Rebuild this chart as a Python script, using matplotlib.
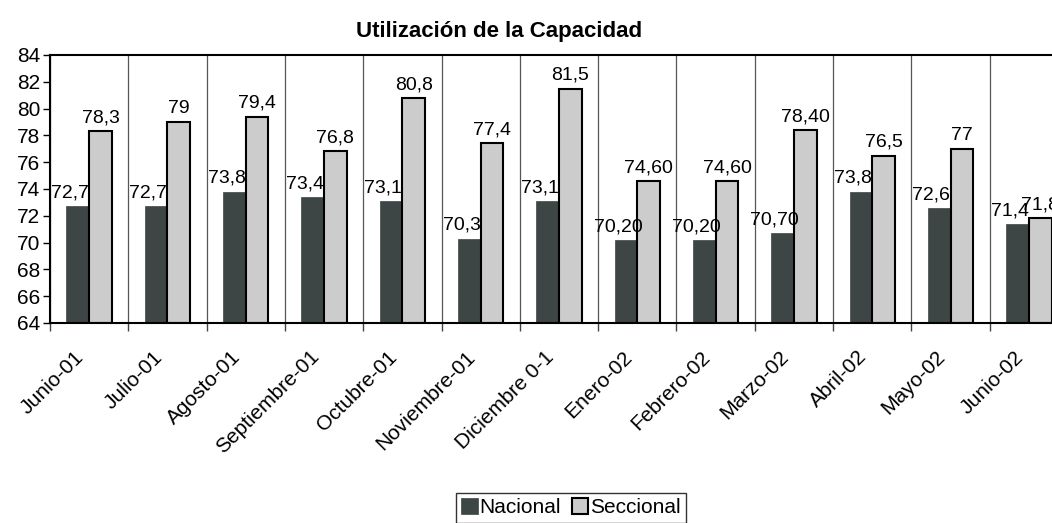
import numpy as np
import matplotlib.pyplot as plt
import matplotlib.transforms as mtransforms

meses = ['Junio-01', 'Julio-01', 'Agosto-01', 'Septiembre-01', 'Octubre-01',
         'Noviembre-01', 'Diciembre 0-1', 'Enero-02', 'Febrero-02', 'Marzo-02',
         'Abril-02', 'Mayo-02', 'Junio-02']
nacional = [72.7, 72.7, 73.8, 73.4, 73.1, 70.3, 73.1, 70.2, 70.2, 70.7, 73.8, 72.6, 71.4]
seccional = [78.3, 79, 79.4, 76.8, 80.8, 77.4, 81.5, 74.6, 74.6, 78.4, 76.5, 77, 71.8]
lab_nac = ['72,7', '72,7', '73,8', '73,4', '73,1', '70,3', '73,1', '70,20', '70,20',
           '70,70', '73,8', '72,6', '71,4']
lab_sec = ['78,3', '79', '79,4', '76,8', '80,8', '77,4', '81,5', '74,60', '74,60',
           '78,40', '76,5', '77', '71,8']

plt.rcParams['font.family'] = ['Liberation Sans', 'DejaVu Sans']

fig = plt.figure(figsize=(10.52, 5.23), dpi=100)
ax = fig.add_axes([50/1052, 200/523, 1018/1052, 268/523])

x = np.arange(len(meses))
w = 0.29
b1 = ax.bar(x - w/2, np.array(nacional) - 64, w, bottom=64, color='#3d4645', edgecolor='#3d4645', lw=0.5,
            label='Nacional', zorder=2)
b2 = ax.bar(x + w/2, np.array(seccional) - 64, w, bottom=64, color='#cccccc', edgecolor='black', lw=1.5,
            label='Seccional', zorder=2)

for i in range(len(meses)):
    ax.text(x[i] - w/2 - 0.1, nacional[i] + 0.35, lab_nac[i], ha='center', va='bottom', fontsize=14)
    ax.text(x[i] + w/2, seccional[i] + 0.35, lab_sec[i], ha='center', va='bottom', fontsize=14)

ax.set_xlim(-0.5, len(meses) - 0.5)
ax.set_ylim(64, 84)
ax.set_yticks(np.arange(64, 85, 2))
ax.tick_params(axis='y', labelsize=15, length=5, width=1, direction='out', pad=2)

ax.set_xticks(x)
ax.set_xticklabels(meses, rotation=45, ha='right', rotation_mode='anchor', fontsize=15)
ax.tick_params(axis='x', length=0, pad=8)
# desplazar las etiquetas hacia abajo-izquierda como en el original
off = mtransforms.ScaledTranslation(-0.15, -0.13, fig.dpi_scale_trans)
for t in ax.get_xticklabels():
    t.set_transform(t.get_transform() + off)
ax.set_xticks(np.arange(len(meses)) - 0.5, minor=True)
ax.tick_params(axis='x', which='minor', length=6, width=1, color='#444444')
ax.grid(axis='x', which='minor', color='#555555', lw=0.9, zorder=0)

for s in ['top', 'left', 'bottom']:
    ax.spines[s].set_linewidth(1.5)
ax.spines['right'].set_visible(False)

fig.text(499/1052, 1 - 32/523, 'Utilización de la Capacidad', ha='center', va='center',
         fontsize=16, fontweight='bold')

leg = fig.legend(handles=[b1, b2], loc='upper center', bbox_to_anchor=(571/1052, 1 - 493/523),
                 ncol=2, fontsize=15, frameon=True, fancybox=False, handlelength=0.8,
                 handleheight=0.8, handletextpad=0.1, columnspacing=0.5, borderpad=0.25,
                 borderaxespad=0)
leg.get_frame().set_edgecolor('black')
leg.get_frame().set_linewidth(1)

plt.savefig('out.png', dpi=100)
